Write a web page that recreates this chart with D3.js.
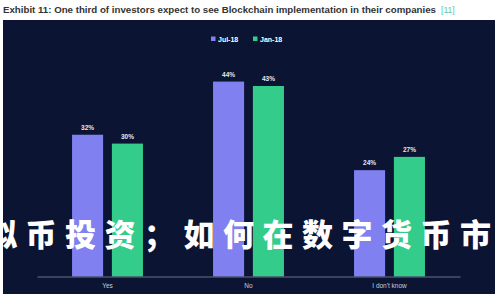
<!DOCTYPE html>
<html><head><meta charset="utf-8">
<script src="https://cdn.jsdelivr.net/npm/d3@7"></script>
<style>html,body{margin:0;padding:0;background:#fff;}svg{display:block;}</style>
</head><body>
<script>
const categories = ["Yes", "No", "I don't know"];
const seriesNames = ["Jul-18", "Jan-18"];
const jul18 = [32, 44, 24];
const jan18 = [30, 43, 27];
const colors = ["#8080f0", "#33cc8a"];
const titleText = "Exhibit 11: One third of investors expect to see Blockchain implementation in their companies";
const titleRef = "[11]";
const overlayText = "拟币投资；如何在数字货币市场";

const W = 500, H = 300;
const svg = d3.select("body").append("svg").attr("width", W).attr("height", H);

// title
const t = svg.append("text").attr("x", 3).attr("y", 13)
  .attr("font-family", "Liberation Sans, Arial, sans-serif").attr("font-weight", "bold")
  .attr("font-size", 8.6).attr("fill", "#333");
t.append("tspan").text(titleText).attr("textLength", 433).attr("lengthAdjust", "spacingAndGlyphs");
t.append("tspan").attr("dx", 5).attr("fill", "#5cc8a8").attr("font-weight", "normal").text(titleRef);

// panel
svg.append("rect").attr("x", 3).attr("y", 20).attr("width", 492).attr("height", 274).attr("fill", "#0b1433");

const x0 = d3.scaleBand().domain(categories).range([37, 460]).paddingInner(0.497).paddingOuter(0.2485);
const x1 = d3.scaleBand().domain(seriesNames).range([0, x0.bandwidth()]).paddingInner(0.22);
const y = d3.scaleLinear().domain([0, 50]).range([276.5, 55]);

const data = categories.map((c, i) => ({cat: c, vals: [jul18[i], jan18[i]]}));

const g = svg.append("g");
const groups = g.selectAll("g.grp").data(data).join("g").attr("transform", d => `translate(${x0(d.cat)},0)`);
groups.selectAll("rect").data(d => d.vals.map((v, j) => ({s: seriesNames[j], v, j})))
  .join("rect")
  .attr("x", d => x1(d.s)).attr("width", x1.bandwidth())
  .attr("y", d => y(d.v)).attr("height", d => y(0) - y(d.v))
  .attr("fill", d => colors[d.j]);
groups.selectAll("text.val").data(d => d.vals.map((v, j) => ({s: seriesNames[j], v, j})))
  .join("text").attr("class", "val")
  .attr("x", d => x1(d.s) + x1.bandwidth() / 2).attr("y", d => y(d.v) - 5)
  .attr("text-anchor", "middle").attr("font-family", "Liberation Sans, Arial, sans-serif")
  .attr("font-size", 6.5).attr("font-weight", "bold").attr("fill", "#e8e8f0").text(d => d.v + "%");

// axis
const xAxis = d3.axisBottom(x0).tickSize(0).tickPadding(7);
const ax = svg.append("g").attr("transform", `translate(0,${y(0)})`).call(xAxis);
ax.select(".domain").attr("stroke", "#6a7188").attr("stroke-width", 1);
ax.selectAll("text").attr("fill", "#c8ccd8").attr("font-size", 6.5)
  .attr("font-family", "Liberation Sans, Arial, sans-serif");

// legend
const legend = svg.append("g").attr("transform", "translate(211,39)");
const lx = [0, 42];
seriesNames.forEach((s, i) => {
  const lg = legend.append("g").attr("transform", `translate(${lx[i]},0)`);
  lg.append("rect").attr("x", 0).attr("y", -2.5).attr("width", 4.5).attr("height", 4.5).attr("fill", colors[i]);
  lg.append("text").attr("x", 7).attr("y", 2.5).attr("font-family", "Liberation Sans, Arial, sans-serif")
    .attr("font-size", 7).attr("font-weight", "bold").attr("fill", "#ffffff").text(s);
});

// overlay watermark text
svg.append("text").attr("x", -14).attr("y", 246)
  .attr("font-family", "Noto Sans CJK SC, sans-serif").attr("font-weight", 900)
  .attr("font-size", 31).attr("letter-spacing", 8.5).attr("fill", "#ffffff")
  .text(overlayText);
</script>
</body></html>
